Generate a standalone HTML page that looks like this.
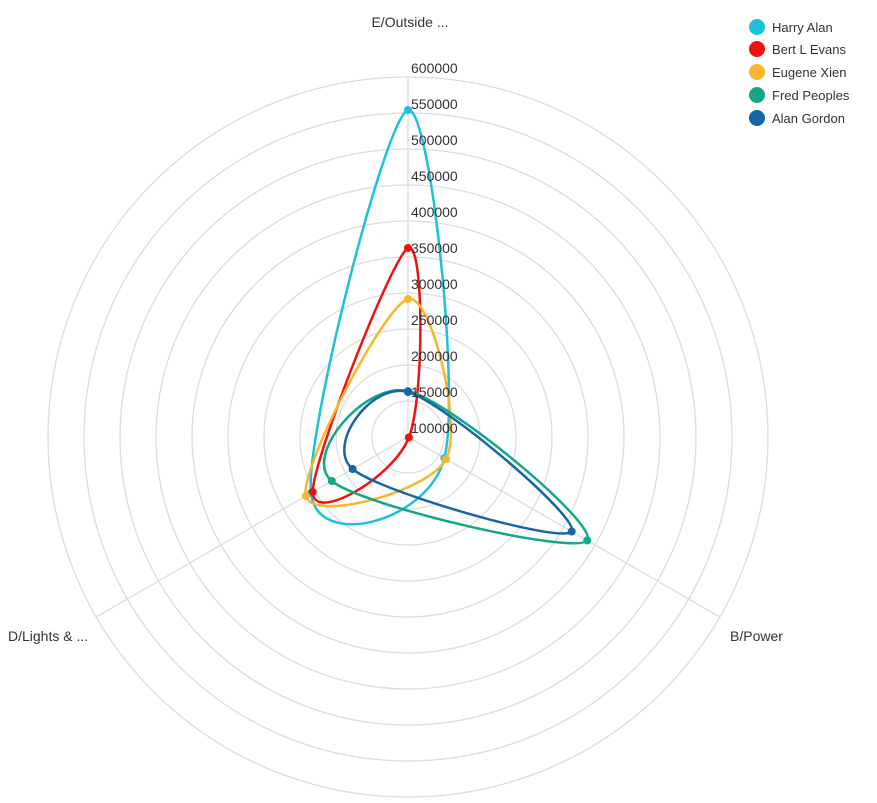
<!DOCTYPE html>
<html><head><meta charset="utf-8"><style>
html,body{margin:0;padding:0;background:#fff;}
svg{display:block;font-family:"Liberation Sans",sans-serif;}
</style></head><body>
<svg id="s" width="877" height="803" viewBox="0 0 877 803">
<g id="grid" fill="none" stroke="#dcdcdc" stroke-width="1.3"></g>
<g id="series" fill="none" stroke-width="2.5"></g>
<g id="labels" font-size="14" fill="#333"></g>
<text x="410" y="27" font-size="14" fill="#333" text-anchor="middle">E/Outside ...</text>
<text x="730" y="641" font-size="14" fill="#333">B/Power</text>
<text x="8" y="641" font-size="14" fill="#333">D/Lights &amp; ...</text>
<g font-size="13" fill="#333">
<circle cx="757" cy="27" r="8" fill="#1fc0dd"/><text x="772" y="32">Harry Alan</text>
<circle cx="757" cy="49" r="8" fill="#f01010"/><text x="772" y="54">Bert L Evans</text>
<circle cx="757" cy="72" r="8" fill="#fbb52c"/><text x="772" y="77">Eugene Xien</text>
<circle cx="757" cy="95" r="8" fill="#13a786"/><text x="772" y="100">Fred Peoples</text>
<circle cx="757" cy="118" r="8" fill="#1565a8"/><text x="772" y="123">Alan Gordon</text>
</g>
</svg>
<script>
var cx=408,cy=437,NS="http://www.w3.org/2000/svg";
function el(t,a,p){var e=document.createElementNS(NS,t);for(var k in a)e.setAttribute(k,a[k]);p.appendChild(e);return e;}
var g=document.getElementById('grid'),L=document.getElementById('labels'),S=document.getElementById('series');
for(var i=1;i<=10;i++)el('circle',{cx:cx,cy:cy,r:i*36},g);
var ang=[-90,30,150];
ang.forEach(function(a){var r=a*Math.PI/180;el('line',{x1:cx,y1:cy,x2:cx+360*Math.cos(r),y2:cy+360*Math.sin(r)},g);});
for(var i=0;i<=10;i++){var v=100000+i*50000;var t=el('text',{x:411,y:cy-i*36-4},L);t.textContent=v;}
function pt(a,r){var q=a*Math.PI/180;return [cx+r*Math.cos(q),cy+r*Math.sin(q)];}
var data=[
["#1fc0dd",[327,42,112]],
["#f01010",[189,1,110]],
["#fbb52c",[138,44,118]],
["#13a786",[46,207,88]],
["#1565a8",[45,189,64]]];
data.forEach(function(d){
 var P=d[1].map(function(r,i){return pt(ang[i],r);});
 var n=P.length,s="M"+P[0][0]+","+P[0][1];
 for(var i=0;i<n;i++){var p0=P[(i-1+n)%n],p1=P[i],p2=P[(i+1)%n],p3=P[(i+2)%n];
  var c1=[p1[0]+(p2[0]-p0[0])/6,p1[1]+(p2[1]-p0[1])/6],c2=[p2[0]-(p3[0]-p1[0])/6,p2[1]-(p3[1]-p1[1])/6];
  s+="C"+c1+" "+c2+" "+p2;}
 el('path',{d:s+"Z",stroke:d[0]},S);
 P.forEach(function(p){el('circle',{cx:p[0],cy:p[1],r:4,fill:d[0],stroke:"none"},S);});
});
</script>
</body></html>
